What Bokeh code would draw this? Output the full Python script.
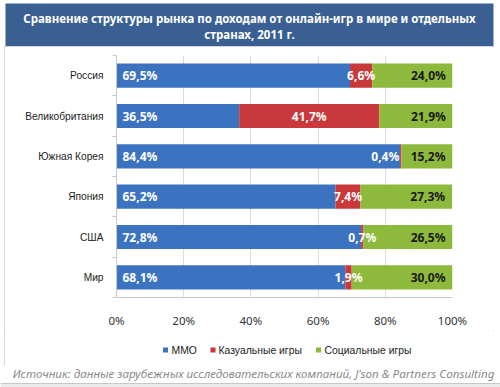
from bokeh.plotting import figure
from bokeh.models import (ColumnDataSource, FixedTicker, PrintfTickFormatter, Range1d, Spacer)
from bokeh.layouts import column, row
from bokeh.core.properties import value
from bokeh.embed import file_html
from bokeh.resources import INLINE

# ---- data ----
categories = ["Россия", "Великобритания", "Южная Корея", "Япония", "США", "Мир"]
mmo = [69.5, 36.5, 84.4, 65.2, 72.8, 68.1]
casual = [6.6, 41.7, 0.4, 7.4, 0.7, 1.9]
social = [24.0, 21.9, 15.2, 27.3, 26.5, 30.0]
series_names = ["MMO", "Казуальные игры", "Социальные игры"]
x_ticks = [0, 20, 40, 60, 80, 100]
title_lines = ["Сравнение структуры рынка по доходам от онлайн-игр в мире и отдельных",
               "странах, 2011 г."]
source_text = "Источник: данные зарубежных исследовательских компаний, J'son & Partners Consulting"

FONT = "Noto Sans"
CAT_FONT = "Liberation Sans"
BLUE, RED, GREEN = "#3b73c1", "#c9383b", "#8db93d"
COLORS = [BLUE, RED, GREEN]
HEAD = "#3a5f93"
W, H = 500, 387
PX = 4            # left edge of the bordered panel
PW = 490          # panel width
FL, FR = 112, 448  # chart frame, panel-local pixels


def blank(width, height, x0=0, x1=None, bl=0, br=0):
    x1 = width if x1 is None else x1
    f = figure(width=width, height=height, output_backend="svg", toolbar_location=None,
               x_range=Range1d(x0, x1), y_range=Range1d(height, 0),
               x_axis_type=None, y_axis_type=None,
               min_border=0, min_border_left=bl, min_border_right=br,
               min_border_top=0, min_border_bottom=0)
    f.outline_line_color = None
    f.grid.visible = False
    f.background_fill_color = "white"
    f.border_fill_color = "white"
    return f


# ---------------- header (page y 0..46) ----------------
HH = 46
head = blank(W, HH)
head.quad(left=[5], right=[493], top=[3], bottom=[HH], fill_color=HEAD, line_color=None)
head.text(x=[249, 249], y=[17.5, 33.5], text=title_lines, text_align="center",
          text_baseline="middle", text_color="white", text_font=value(FONT),
          text_font_size="11.5px", text_font_style="bold")

# ---------------- chart (page y 46..330) ----------------
n = len(categories)
ys = [n - i - 0.5 for i in range(n)]
c_end = [m + c for m, c in zip(mmo, casual)]
s_end = [e + s for e, s in zip(c_end, social)]


def fmt(v):
    return f"{v:.1f}".replace(".", ",") + "%"


src = ColumnDataSource(dict(
    y=ys, zero=[0] * n, mmo=mmo, c_end=c_end, s_end=s_end,
    mmo_lbl=[fmt(v) for v in mmo],
    cas_lbl=[fmt(v) for v in casual],
    soc_lbl=[fmt(v) for v in social],
    cas_x=[min((m + e) / 2, 80.0) for m, e in zip(mmo, c_end)],
    soc_x=s_end,
))

CH = 284
p = figure(width=PW, height=CH, output_backend="svg", toolbar_location=None,
           x_range=Range1d(0, 100), y_range=Range1d(0, n),
           min_border_left=FL, min_border_right=PW - FR, min_border_top=9, min_border_bottom=25)
p.outline_line_color = None
p.background_fill_color = "white"
p.border_fill_color = "white"

for left, right, col in [("zero", "mmo", BLUE), ("mmo", "c_end", RED), ("c_end", "s_end", GREEN)]:
    p.hbar(y="y", left=left, right=right, height=0.6, source=src,
           fill_color=col, line_color=None)

lab_kw = dict(source=src, y="y", text_font=value(FONT), text_font_size="12px",
              text_font_style="bold", text_baseline="middle")
p.text(x="zero", text="mmo_lbl", text_align="left", x_offset=6, text_color="white", **lab_kw)
p.text(x="cas_x", text="cas_lbl", text_align="center", text_color="white", **lab_kw)
p.text(x="soc_x", text="soc_lbl", text_align="right", x_offset=-7, text_color="#1a1a1a", **lab_kw)

xa = p.xaxis[0]
xa.ticker = FixedTicker(ticks=x_ticks)
xa.formatter = PrintfTickFormatter(format="%d%%")
xa.axis_line_color = "#c8c8c8"
xa.major_tick_line_color = None
xa.minor_tick_line_color = None
xa.major_label_standoff = 9
xa.major_label_text_font = FONT
xa.major_label_text_font_size = "11.5px"
xa.major_label_text_color = "#333333"

ya = p.yaxis[0]
ya.ticker = FixedTicker(ticks=ys, minor_ticks=list(range(n + 1)))
ya.major_label_overrides = {y: c for y, c in zip(ys, categories)}
ya.axis_line_color = "#c8c8c8"
ya.major_tick_line_color = None
ya.minor_tick_line_color = "#c8c8c8"
ya.minor_tick_out = 4
ya.minor_tick_in = 0
ya.major_label_standoff = 7
ya.major_label_text_font = CAT_FONT
ya.major_label_text_font_size = "10.2px"
ya.major_label_text_color = "#222222"

p.xgrid.ticker = FixedTicker(ticks=x_ticks)
p.xgrid.grid_line_color = "#dcdcdc"
p.ygrid.grid_line_color = None

# ---------------- legend strip (page y 330..365) ----------------
# frame of this strip is aligned with the chart frame; x range in panel-local pixels
LH = 35
leg = blank(PW, LH, x0=FL, x1=FR, bl=FL, br=PW - FR)
sq_x = [161, 208.5, 314]
tx_x = [167, 214, 320]
leg.scatter(x=sq_x, y=[19.5] * 3, marker="square", size=5, fill_color=COLORS, line_color=None)
leg.text(x=tx_x, y=[19.5] * 3, text=series_names, text_align="left", text_baseline="middle",
         text_color="#222222", text_font=value(CAT_FONT), text_font_size="10.4px")

# ---------------- source (page y 365..387) ----------------
SH = 22
foot = blank(W, SH)
foot.text(x=[253], y=[8], text=[source_text], text_align="center", text_baseline="middle",
          text_color="#8a8a8a", text_font=value(FONT), text_font_size="11.6px",
          text_font_style="italic")
foot.quad(left=[0], right=[W], top=[18], bottom=[SH], fill_color="#ebebeb", line_color=None)
foot.segment(x0=[0], y0=[18], x1=[W], y1=[18], line_color="#c8c8c8", line_width=1)

panel = column(p, leg, spacing=0,
               styles={"outline": "1px solid #c8c8c8", "outline-offset": "-1px"})
mid = row(Spacer(width=PX, height=CH + LH), panel, Spacer(width=W - PX - PW, height=CH + LH),
          spacing=0)
page = column(head, mid, foot, spacing=0)

open("out.html", "w").write(file_html(page, INLINE))
